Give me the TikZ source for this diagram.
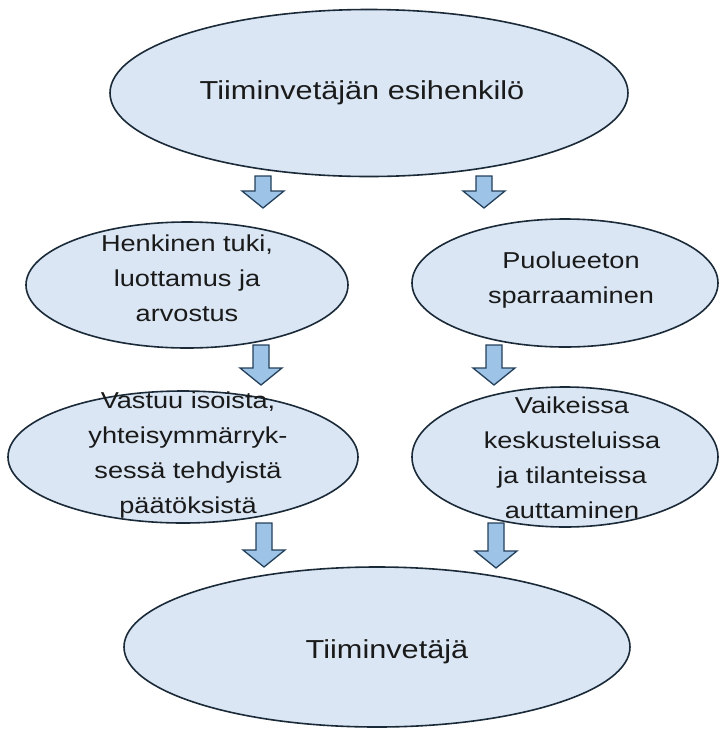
\documentclass[tikz,border=0pt]{standalone}
\usepackage{fontspec}
\setmainfont[FakeStretch=1.18]{Liberation Sans}
\usetikzlibrary{shapes.geometric}

\definecolor{bubblefill}{HTML}{DAE6F4}
\definecolor{bubbleline}{HTML}{1B2A38}
\definecolor{arrowfill}{HTML}{9DC3E6}
\definecolor{arrowline}{HTML}{24405A}
\definecolor{inktext}{HTML}{1A1A1A}

\tikzset{
  bubble/.style={ellipse, draw=bubbleline, fill=bubblefill, line width=1.6pt, inner sep=0pt},
  bigtext/.style={text=inktext, font=\fontsize{26}{36}\selectfont, align=center, inner sep=0pt},
  midtext/.style={text=inktext, font=\fontsize{23}{35}\selectfont, align=center, inner sep=0pt},
  blockarrow/.style={draw=arrowline, fill=arrowfill, line width=1.3pt, line join=miter}
}

% downward block arrow: #1 centre x, #2 top of shaft, #3 tip
\newcommand{\downblock}[3]{%
  \draw[blockarrow] (#1-8,#2) -- (#1+8,#2) -- (#1+8,#3-17) -- (#1+21,#3-17)
    -- (#1,#3) -- (#1-21,#3-17) -- (#1-8,#3-17) -- cycle;}

\begin{document}
\begin{tikzpicture}[x=1pt,y=-1pt]
\useasboundingbox[fill=white] (0,0) rectangle (720,732);

% ellipses
\node[bubble, minimum width=518pt, minimum height=167pt] (boss) at (369,93) {};
\node[bubble, minimum width=322pt, minimum height=126pt] (support) at (187,285) {};
\node[bubble, minimum width=306pt, minimum height=128pt] (spar) at (565,283) {};
\node[bubble, minimum width=350pt, minimum height=132pt] (resp) at (183,457) {};
\node[bubble, minimum width=306pt, minimum height=140pt] (help) at (565,457) {};
\node[bubble, minimum width=506pt, minimum height=160pt] (lead) at (377,647) {};

% texts
\node[bigtext] (bossT) at (362,93) {Tiiminvetäjän esihenkilö};
\node[midtext] (supportT) at (187,278) {Henkinen tuki,\\luottamus ja\\arvostus};
\node[midtext] (sparT) at (571,280) {Puolueeton\\sparraaminen};
\node[midtext] (respT) at (188,455) {Vastuu isoista,\\yhteisymmärryk-\\sessä tehdyistä\\päätöksistä};
\node[midtext] (helpT) at (572,458) {Vaikeissa\\keskusteluissa\\ja tilanteissa\\auttaminen};
\node[bigtext] (leadT) at (387,652) {Tiiminvetäjä};

% block arrows between levels
\downblock{263}{176}{208}
\downblock{484}{176}{208}
\downblock{261}{345}{385}
\downblock{494}{345}{385}
\downblock{264}{523}{567}
\downblock{496}{523}{568}
\end{tikzpicture}
\end{document}
